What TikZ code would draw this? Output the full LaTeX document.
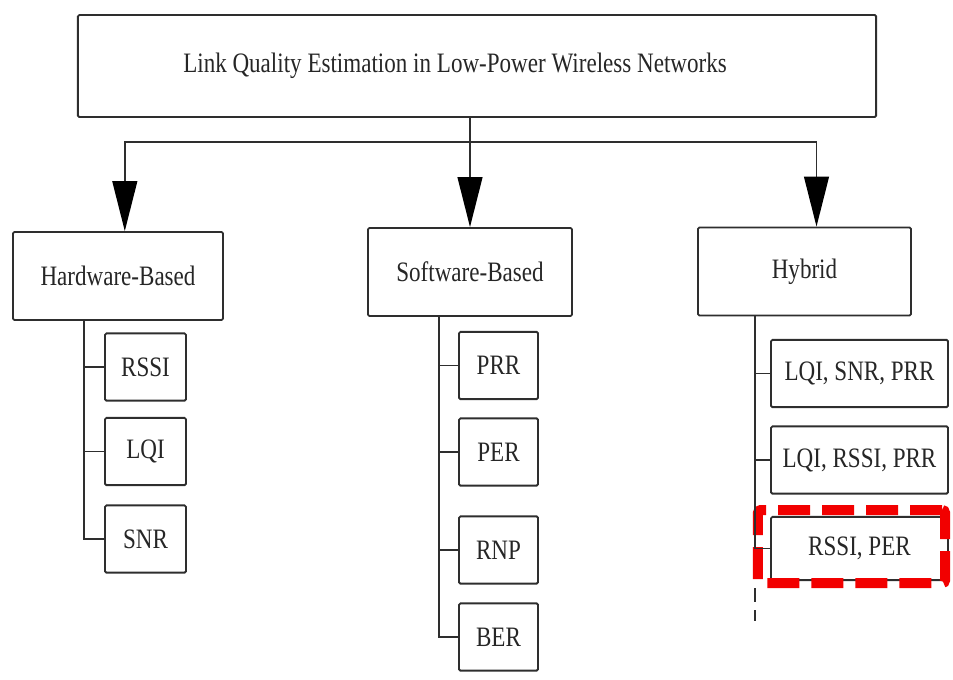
\documentclass[tikz,border=0pt]{standalone}
\usepackage{fontspec}
\setmainfont{Liberation Serif}[FakeStretch=0.82]
\usetikzlibrary{arrows.meta, positioning}
\definecolor{LineGray}{HTML}{2E2E2E}
\definecolor{TextGray}{HTML}{262626}
\definecolor{MarkRed}{HTML}{F20000}

\begin{document}
\begin{tikzpicture}[x=0.025cm, y=-0.025cm, >={Triangle[length=1.25cm, width=0.62cm, color=black]}]
        \tikzstyle{root}     = [rectangle, draw=LineGray, line width=1.3pt, rounded corners=1pt, minimum width=19.95cm, minimum height=2.55cm, font=\fontsize{20}{24}\selectfont, text=TextGray]
        \tikzstyle{category} = [rectangle, draw=LineGray, line width=1.3pt, rounded corners=1pt, minimum height=2.2cm, font=\fontsize{20}{24}\selectfont, text=TextGray]
        \tikzstyle{metric}   = [rectangle, draw=LineGray, line width=1.3pt, rounded corners=1pt, minimum height=1.68cm, font=\fontsize{20}{24}\selectfont, text=TextGray]
        \tikzstyle{wire}     = [draw=LineGray, line width=1.3pt]
        \tikzstyle{redframe} = [rectangle, draw=MarkRed, line width=0.25cm, rounded corners=2pt, dash pattern=on 0.8cm off 0.3cm, minimum width=4.675cm, minimum height=1.825cm]

        \useasboundingbox (0,0) rectangle (953,679);

        % Root
        \node[root] (lqe) at (477,66) {Link Quality Estimation in Low-Power Wireless Networks\hspace*{1.1cm}\null};

        % Categories
        \node[category, minimum width=5.25cm] (hw) at (118,276) {Hardware-Based};
        \node[category, minimum width=5.1cm] (sw) at (470,272) {Software-Based};
        \node[category, minimum width=5.325cm] (hy) at (804.5,271.5) {Hybrid};

        % Hardware metrics
        \node[metric, minimum width=2.025cm] (rssi) at (145.5,367) {RSSI};
        \node[metric, minimum width=2.025cm] (lqi) at (145.5,451.5) {LQI};
        \node[metric, minimum width=2.025cm] (snr) at (145.5,539) {SNR};

        % Software metrics
        \node[metric, minimum width=1.975cm] (prr) at (498.5,365.5) {PRR};
        \node[metric, minimum width=1.975cm] (per) at (498.5,452) {PER};
        \node[metric, minimum width=1.975cm] (rnp) at (498.5,550) {RNP};
        \node[metric, minimum width=1.975cm] (ber) at (498.5,637) {BER};

        % Hybrid metrics
        \node[metric, minimum width=4.425cm] (hyA) at (859.5,373.5) {LQI, SNR, PRR};
        \node[metric, minimum width=4.425cm] (hyB) at (859.5,460) {LQI, RSSI, PRR};
        \node[metric, minimum width=4.425cm, minimum height=1.58cm] (hyC) at (859.5,548.5) {RSSI, PER};
        \node[redframe] (focus) at (851.5,546.5) {};

        % Arrows
        \draw[wire] (lqe.south) ++(0,24) coordinate (split);
        \draw[wire, ->] (lqe.south -| sw.north) -- (sw.north);
        \draw[wire, ->] (split) -| ([xshift=0.17cm]hw.north);
        \draw[wire, ->] (split) -| ([xshift=0.3cm]hy.north);

        % Trunks
        \coordinate (hwtrunk) at ([xshift=-0.5cm]rssi.west);
        \coordinate (swtrunk) at ([xshift=-0.475cm]prr.west);
        \coordinate (hytrunk) at ([xshift=-0.375cm]hyA.west);
        \draw[wire] (hwtrunk |- hw.south) |- (snr.west);
        \draw[wire] (hwtrunk) -- (rssi.west);
        \draw[wire] (hwtrunk |- lqi.west) -- (lqi.west);
        \draw[wire] (swtrunk |- sw.south) |- (ber.west);
        \draw[wire] (swtrunk) -- (prr.west);
        \draw[wire] (swtrunk |- per.west) -- (per.west);
        \draw[wire] (swtrunk |- rnp.west) -- (rnp.west);
        \draw[wire] (hytrunk |- hy.south) |- (hyC.west);
        \draw[wire] (hytrunk) -- (hyA.west);
        \draw[wire] (hytrunk |- hyB.west) -- (hyB.west);
        \draw[wire, line width=1pt, dash pattern=on 0.35cm off 0.2cm] (hytrunk |- focus.south) -- ++(0,33);
    \end{tikzpicture}
\end{document}
